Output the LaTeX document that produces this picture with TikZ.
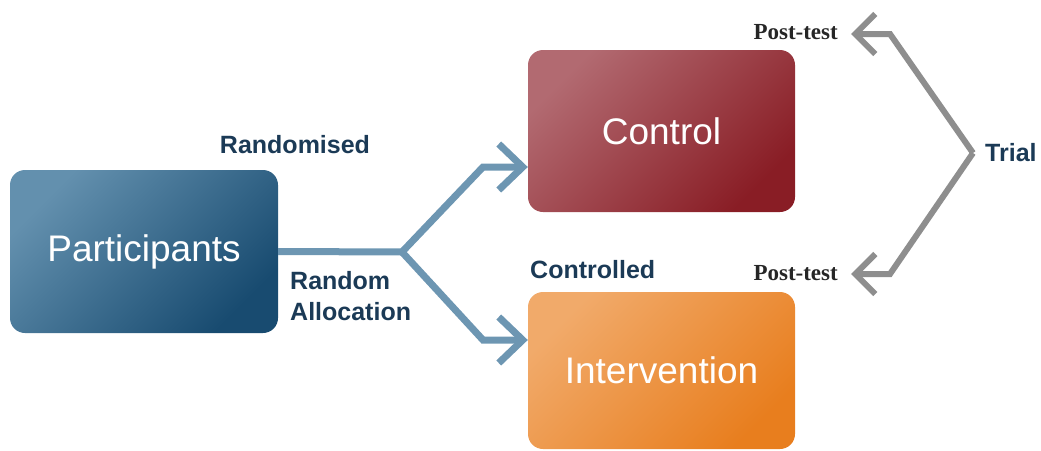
\documentclass[tikz,border=0pt]{standalone}
\usepackage{fontspec}
\setmainfont{Liberation Sans}
\newfontfamily\ptfont{Liberation Serif}
\usetikzlibrary{arrows.meta}
\definecolor{pA}{HTML}{6390AE}
\definecolor{pB}{HTML}{184B70}
\definecolor{cA}{HTML}{B26A71}
\definecolor{cB}{HTML}{891D25}
\definecolor{iA}{HTML}{F1AA6A}
\definecolor{iB}{HTML}{E87E1E}
\definecolor{conn}{HTML}{6D96B2}
\definecolor{gconn}{HTML}{8E8E8E}
\definecolor{navy}{HTML}{1B3A56}
\definecolor{ptcol}{HTML}{262626}
\tikzset{
  box/.style={rectangle, rounded corners=15pt, inner sep=0pt, text=white,
    font=\fontsize{37}{40}\selectfont},
  lbl/.style={inner sep=0pt, text=navy, font=\fontsize{25}{31}\selectfont\bfseries},
  ptlbl/.style={inner sep=0pt, text=ptcol, font=\fontsize{23}{28}\selectfont\ptfont\bfseries},
  bconn/.style={draw=conn, line width=7pt, line join=miter, -{Straight Barb[length=24pt,width=46pt]}},
  gconnst/.style={draw=gconn, line width=6pt, line join=miter, -{Straight Barb[length=20pt,width=40pt]}}
}
\begin{document}
\begin{tikzpicture}[x=1pt,y=-1pt]
\useasboundingbox (0,0) rectangle (1041,450);
\node[box, minimum width=268pt, minimum height=163pt, top color=pA, bottom color=pB, shading angle=45] (P) at (144,251.5) {Participants};
\node[box, minimum width=267pt, minimum height=162pt, top color=cA, bottom color=cB, shading angle=45] (C) at (661.5,131) {Control};
\node[box, minimum width=267pt, minimum height=157pt, top color=iA, bottom color=iB, shading angle=45] (I) at (661.5,370.5) {Intervention};

\coordinate (fork) at (402,252);
\coordinate (u1) at (483,167);
\coordinate (d1) at (483,340);
\draw[bconn] (P.east) -- (fork) -- (u1) -- (C.west |- u1);
\draw[bconn] (fork) -- (d1) -- (I.west |- d1);

\node[lbl] (rand) at (295,145) {Randomised};
\node[lbl, anchor=west, align=left] (alloc) at (290,296.5) {Random\\Allocation};
\node[lbl, anchor=west] (ctrl) at (530,270) {Controlled};
\node[lbl, anchor=west] (trial) at (985,153) {Trial};
\node[ptlbl, anchor=east] (pt1) at (838,32) {Post-test};
\node[ptlbl, anchor=east] (pt2) at (838,273) {Post-test};

\coordinate (tfork) at (973,153);
\coordinate (g1) at (890,34);
\coordinate (g2) at (890,274);
\coordinate (e1) at (851,34);
\coordinate (e2) at (851,274);
\draw[gconnst] (tfork) -- (g1) -- (e1);
\draw[gconnst] (tfork) -- (g2) -- (e2);
\end{tikzpicture}
\end{document}
